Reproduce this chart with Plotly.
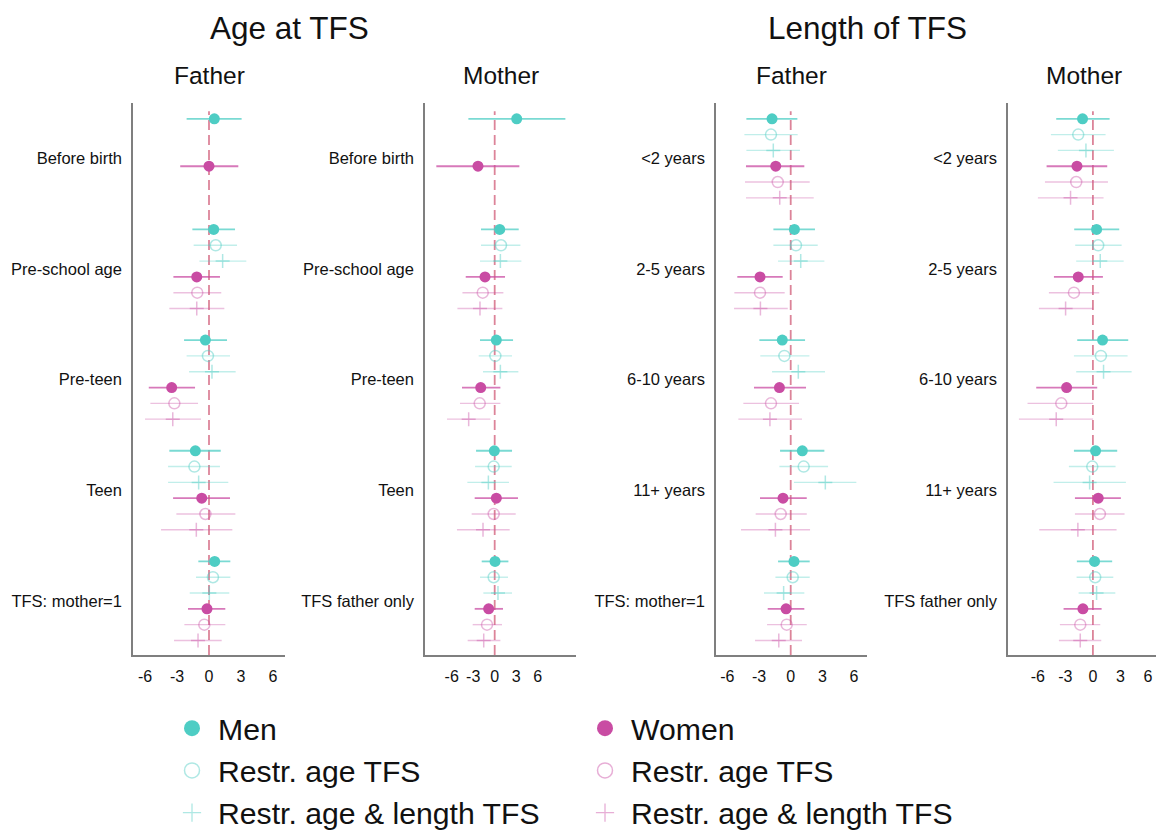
import plotly.graph_objects as go

# ---------------- data (estimate, lower CI, upper CI) ----------------
cats_age_father = ["Before birth", "Pre-school age", "Pre-teen", "Teen", "TFS: mother=1"]
cats_age_mother = ["Before birth", "Pre-school age", "Pre-teen", "Teen", "TFS father only"]
cats_len_father = ["<2 years", "2-5 years", "6-10 years", "11+ years", "TFS: mother=1"]
cats_len_mother = ["<2 years", "2-5 years", "6-10 years", "11+ years", "TFS father only"]
x_ticks = [-6, -3, 0, 3, 6]

# Age at TFS - Father
af_men = [(0.50, -2.10, 3.06), (0.44, -1.56, 2.44), (-0.34, -2.34, 1.69), (-1.28, -3.72, 1.10), (0.53, -1.00, 2.00)]
af_men_restr = [None, (0.63, -1.44, 2.63), (-0.10, -2.10, 1.97), (-1.37, -3.84, 1.03), (0.37, -1.22, 2.00)]
af_men_rl = [None, (1.28, -0.90, 3.50), (0.28, -1.87, 2.50), (-0.97, -3.84, 1.81), (0.03, -1.81, 1.90)]
af_wom = [(0.00, -2.70, 2.75), (-1.15, -3.34, 1.03), (-3.50, -5.65, -1.31), (-0.68, -3.37, 1.97), (-0.19, -1.97, 1.53)]
af_wom_restr = [None, (-1.10, -3.34, 1.15), (-3.25, -5.50, -1.03), (-0.34, -3.06, 2.47), (-0.44, -2.31, 1.53)]
af_wom_rl = [None, (-1.15, -3.72, 1.44), (-3.40, -6.00, -0.75), (-1.19, -4.50, 2.19), (-1.03, -3.28, 1.19)]

# Age at TFS - Mother
am_men = [(3.07, -3.67, 9.86), (0.70, -1.91, 3.35), (0.23, -2.05, 2.56), (-0.05, -2.60, 2.42), (0.05, -1.81, 1.91)]
am_men_restr = [None, (0.88, -1.91, 3.58), (0.09, -2.23, 2.42), (-0.14, -2.74, 2.37), (-0.14, -2.05, 1.86)]
am_men_rl = [None, (0.79, -2.05, 3.72), (0.79, -1.63, 3.30), (-0.88, -3.81, 1.99), (0.46, -1.58, 2.42)]
am_wom = [(-2.33, -8.14, 3.44), (-1.35, -4.04, 1.44), (-1.95, -4.56, 0.79), (0.23, -2.79, 3.25), (-0.84, -2.79, 1.16)]
am_wom_restr = [None, (-1.67, -4.50, 1.21), (-2.09, -4.84, 0.79), (-0.14, -3.21, 2.93), (-1.07, -3.07, 1.02)]
am_wom_rl = [None, (-2.05, -5.20, 1.07), (-3.63, -6.65, -0.60), (-1.63, -5.26, 2.09), (-1.53, -3.77, 0.79)]

# Length of TFS - Father
lf_men = [(-1.77, -4.20, 0.63), (0.35, -1.64, 2.30), (-0.80, -2.97, 1.36), (1.10, -1.01, 3.19), (0.31, -1.20, 1.80)]
lf_men_restr = [(-1.87, -4.39, 0.66), (0.50, -1.64, 2.56), (-0.60, -2.88, 1.77), (1.23, -1.07, 3.54), (0.19, -1.45, 1.80)]
lf_men_rl = [(-1.65, -4.20, 0.88), (0.95, -1.20, 3.19), (0.72, -1.77, 3.25), (3.28, 0.31, 6.22), (-0.67, -2.53, 1.29)]
lf_wom = [(-1.42, -4.24, 1.29), (-2.91, -5.06, -0.76), (-1.07, -3.48, 1.45), (-0.73, -2.91, 1.52), (-0.44, -2.18, 1.29)]
lf_wom_restr = [(-1.23, -4.33, 1.80), (-2.91, -5.34, -0.57), (-1.87, -4.49, 0.79), (-0.95, -3.32, 1.52), (-0.38, -2.24, 1.52)]
lf_wom_rl = [(-1.04, -4.24, 2.18), (-2.87, -5.37, -0.28), (-1.97, -4.96, 1.07), (-1.45, -4.71, 1.83), (-1.13, -3.38, 1.07)]

# Length of TFS - Mother
lm_men = [(-1.13, -4.00, 1.82), (0.40, -2.04, 2.87), (1.05, -1.71, 3.85), (0.29, -2.07, 2.65), (0.18, -1.75, 2.10)]
lm_men_restr = [(-1.60, -4.58, 1.38), (0.58, -1.93, 3.13), (0.87, -2.07, 3.78), (-0.07, -2.62, 2.47), (0.25, -1.78, 2.22)]
lm_men_rl = [(-0.76, -3.82, 2.29), (0.80, -1.82, 3.35), (1.16, -1.82, 4.22), (-0.36, -4.29, 3.60), (0.40, -1.56, 2.44)]
lm_wom = [(-1.74, -5.05, 1.56), (-1.60, -4.25, 1.09), (-2.87, -6.18, 0.47), (0.58, -1.96, 3.05), (-1.09, -3.20, 0.95)]
lm_wom_restr = [(-1.82, -5.23, 1.64), (-2.07, -4.80, 0.69), (-3.45, -7.13, 0.02), (0.76, -1.96, 3.45), (-1.38, -3.60, 0.80)]
lm_wom_rl = [(-2.44, -6.00, 1.16), (-2.98, -5.89, 0.02), (-4.00, -8.07, 0.02), (-1.64, -5.85, 2.58), (-1.38, -3.71, 0.91)]

# ---------------- styling ----------------
W, H = 1156, 830
FONT = "Liberation Sans, Arial, sans-serif"
TEAL = "rgb(78,205,196)"
MAG = "rgb(201,76,163)"

def rgba(c, a):
    return c.replace("rgb(", "rgba(").replace(")", f",{a})")

SERIES = [
    # (slot, color, symbol, marker alpha, line alpha, size)
    (0, TEAL, "circle", 1.0, 0.75, 11),
    (1, TEAL, "circle-open", 0.45, 0.35, 11),
    (2, TEAL, "cross-thin", 0.45, 0.35, 10),
    (3, MAG, "circle", 1.0, 0.75, 11),
    (4, MAG, "circle-open", 0.4, 0.35, 11),
    (5, MAG, "cross-thin", 0.4, 0.35, 10),
]

panels = [
    (cats_age_father, [af_men, af_men_restr, af_men_rl, af_wom, af_wom_restr, af_wom_rl], (133, 285), (-7.13, 7.13)),
    (cats_age_mother, [am_men, am_men_restr, am_men_rl, am_wom, am_wom_restr, am_wom_rl], (425, 576), (-9.72, 11.34)),
    (cats_len_father, [lf_men, lf_men_restr, lf_men_rl, lf_wom, lf_wom_restr, lf_wom_rl], (716, 867), (-7.08, 7.23)),
    (cats_len_mother, [lm_men, lm_men_restr, lm_men_rl, lm_wom, lm_wom_restr, lm_wom_rl], (1008, 1156), (-9.26, 6.88)),
]

PERIOD = 7  # slots per category (6 rows + gap)
Y_TOP_PX, Y_BOT_PX = 103, 655
Y_RANGE = [-33.92, 1.0]

fig = go.Figure()
layout = dict(
    width=W, height=H, plot_bgcolor="white", paper_bgcolor="white",
    margin=dict(l=0, r=0, t=0, b=0, autoexpand=False),
    font=dict(family=FONT, color="#111"),
    showlegend=True,
)
shapes = []

for p, (cats, series_list, (px0, px1), xr) in enumerate(panels):
    xa = "x" if p == 0 else f"x{p+1}"
    ya = "y" if p == 0 else f"y{p+1}"
    xkey = "xaxis" if p == 0 else f"xaxis{p+1}"
    ykey = "yaxis" if p == 0 else f"yaxis{p+1}"
    for (slot, col, sym, ma, la, size), data in zip(SERIES, series_list):
        xs, ys, ep, em = [], [], [], []
        for k, d in enumerate(data):
            if d is None:
                continue
            est, lo, hi = d
            xs.append(est)
            ys.append(-(PERIOD * k + slot))
            ep.append(hi - est)
            em.append(est - lo)
        mk = dict(symbol=sym, size=size, color=rgba(col, ma))
        if sym != "circle":
            mk["line"] = dict(width=1.5, color=rgba(col, ma))
        else:
            mk["line"] = dict(width=0)
        fig.add_trace(go.Scatter(
            x=xs, y=ys, mode="markers", xaxis=xa, yaxis=ya, showlegend=False,
            marker=mk,
            error_x=dict(type="data", array=ep, arrayminus=em, symmetric=False,
                         color=rgba(col, la), thickness=1.8 if slot in (0, 3) else 1.4, width=0),
            hoverinfo="skip",
        ))
    layout[xkey] = dict(
        domain=[px0 / W, px1 / W], range=list(xr), anchor=ya,
        tickvals=x_ticks, ticktext=[str(v) for v in x_ticks],
        showline=True, linecolor="#7f7f7f", linewidth=1.5,
        showgrid=False, zeroline=False, ticks="outside", ticklen=6,
        tickcolor="rgba(0,0,0,0)", tickfont=dict(size=16, family=FONT, color="#111"),
        fixedrange=True,
    )
    layout[ykey] = dict(
        domain=[(H - Y_BOT_PX) / H, (H - Y_TOP_PX) / H], range=Y_RANGE, anchor=xa,
        tickvals=[-(PERIOD * k + 2.5) for k in range(len(cats))], ticktext=cats,
        showline=True, linecolor="#7f7f7f", linewidth=1.5,
        showgrid=False, zeroline=False, ticks="outside", ticklen=6,
        tickcolor="rgba(0,0,0,0)", tickfont=dict(size=16.5, family=FONT, color="#111"),
        fixedrange=True,
    )
    shapes.append(dict(type="line", xref=xa, yref=f"{ya} domain", x0=0, x1=0, y0=0, y1=0.985,
                       line=dict(color="rgba(214,110,135,0.85)", width=1.8, dash="10px,5px"),
                       layer="below"))

layout["shapes"] = shapes

# titles
annotations = [
    dict(text="Age at TFS", x=289 / W, y=1 - 28 / H, xref="paper", yref="paper",
         showarrow=False, font=dict(size=31.5, family=FONT, color="#111"), xanchor="center", yanchor="middle"),
    dict(text="Length of TFS", x=867 / W, y=1 - 28 / H, xref="paper", yref="paper",
         showarrow=False, font=dict(size=31.5, family=FONT, color="#111"), xanchor="center", yanchor="middle"),
]
for (cats, _s, (px0, px1), _r), name in zip(panels, ["Father", "Mother", "Father", "Mother"]):
    cx = (px0 + px1) / 2 if px1 < W else (px0 + px0 + 151) / 2
    annotations.append(dict(text=name, x=cx / W, y=1 - 75 / H, xref="paper", yref="paper",
                            showarrow=False, font=dict(size=24.5, family=FONT, color="#111"),
                            xanchor="center", yanchor="middle"))
layout["annotations"] = annotations

# legend-only traces
legend_entries = [
    ("legend", TEAL, "Men", "Restr. age TFS", "Restr. age & length TFS"),
    ("legend2", MAG, "Women", "Restr. age TFS", "Restr. age & length TFS"),
]
for leg, col, n1, n2, n3 in legend_entries:
    fig.add_trace(go.Scatter(x=[None], y=[None], mode="markers", name=n1, legend=leg,
                             marker=dict(symbol="circle", size=16, color=col, line=dict(width=0))))
    fig.add_trace(go.Scatter(x=[None], y=[None], mode="markers", name=n2, legend=leg,
                             marker=dict(symbol="circle-open", size=15, color=rgba(col, 0.45),
                                         line=dict(width=1.5, color=rgba(col, 0.45)))))
    fig.add_trace(go.Scatter(x=[None], y=[None], mode="markers", name=n3, legend=leg,
                             marker=dict(symbol="cross-thin", size=13, color=rgba(col, 0.45),
                                         line=dict(width=1.3, color=rgba(col, 0.45)))))

leg_common = dict(orientation="v", yanchor="top", xanchor="left", bgcolor="rgba(0,0,0,0)",
                  font=dict(size=30.2, family=FONT, color="#111"), tracegroupgap=0, itemwidth=42)
layout["legend"] = dict(x=166 / W, y=1 - 702 / H, **leg_common)
layout["legend2"] = dict(x=579 / W, y=1 - 702 / H, **leg_common)

fig.update_layout(**layout)
fig.write_html("out.html", config={"displayModeBar": False},
               post_script="document.body.style.margin='0';document.body.style.overflow='hidden';")
